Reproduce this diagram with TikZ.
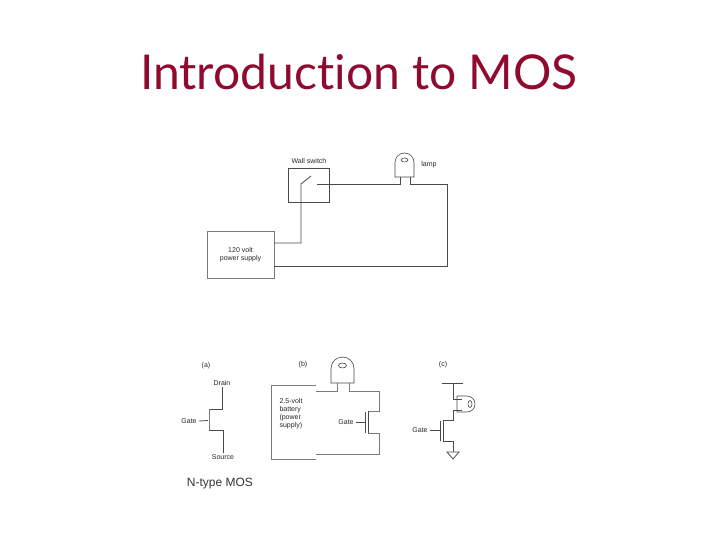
\documentclass[tikz,border=0pt]{standalone}
\usepackage{fontspec}
\setmainfont{Liberation Sans}
\newfontfamily\titlefont[Ligatures=CommonOff]{Lato}
\definecolor{titlered}{HTML}{8F0A2E}
\definecolor{wirecol}{HTML}{4A4A4A}
\definecolor{boxcol}{HTML}{7A7A7A}
\tikzset{
    wire/.style={draw=wirecol, line width=0.8pt},
    lightwire/.style={draw=boxcol, line width=0.8pt},
    lampline/.style={draw=wirecol, line width=0.6pt},
    tinylabel/.style={font=\fontsize{7}{7.8}\selectfont, text=black!85, align=center, inner sep=0pt},
    supplybox/.style={draw=boxcol, line width=0.7pt, tinylabel},
}

\begin{document}
\begin{tikzpicture}[x=1pt,y=-1pt]
    \useasboundingbox (0,0) rectangle (720,540);

    % Title
    \node (title) at (359,72) {\titlefont\fontsize{48}{54}\selectfont\color{titlered}Introduction to MOS};

    % Wall switch circuit
    \node [draw=wirecol, line width=0.9pt, minimum width=41pt, minimum height=34pt, inner sep=0pt] (switchbox) at (308.5,185) {};
    \node [tinylabel] (switchlabel) at (309,161) {Wall switch};
    \node [supplybox, minimum width=67pt, minimum height=47pt] (mains) at (240.5,254.5) {120 volt\\power supply};
    \node [tinylabel] (lamplabel) at (429,165) {lamp};

    \coordinate (mainshi) at (274,243);
    \coordinate (mainslo) at (274,266);
    \coordinate (pivot) at (301,184);
    \coordinate (blade) at (311,176);
    \coordinate (contact) at (317,184);
    \coordinate (legleft) at (400,184);
    \coordinate (legright) at (410,184);

    \draw [wire] (mainshi) -| (pivot) -- (blade);
    \draw [wire] (contact) -- (legleft) -- (400,177);
    \draw [wire] (410,177) -- (legright) -- (447,184) |- (mainslo);

    % Lamps of both circuits
    \foreach \lx/\ly/\lw/\ld in {395/177/9.5/14.5, 331/383/11.5/14.5} {
        \draw [lampline] (\lx,\ly) -- +(0,-\ld) arc [start angle=180, end angle=360, x radius=\lw, y radius=\lw] -- +(0,\ld) -- cycle;
    }
    \draw [lampline] (404.5,160) ellipse [x radius=3.5, y radius=2];
    \draw [lampline] (342.5,365.5) ellipse [x radius=4, y radius=2.5];

    % (a) the bare transistor
    \node [tinylabel] (alabel) at (206,366) {(a)};
    \node [tinylabel] (drain) at (222,383) {Drain};
    \node [tinylabel] (gatea) at (189,421) {Gate};
    \node [tinylabel] (source) at (223,457) {Source};
    \draw [wire] (drain.south) ++(0,1) |- (209,409);
    \draw [wire] (source.north) ++(0,-1) |- (209,430);
    \draw [lightwire] (209,409) -- (209,430);
    \draw [wire] (gatea.east) ++(2,0) -- (208,420.5);
    \node [font=\fontsize{12}{14}\selectfont, text=black!80] (caption) at (220,484) {N-type MOS};

    % (b) battery circuit
    \node [tinylabel] (blabel) at (303,365) {(b)};
    \draw [lightwire] (316,385) -- (271,385) -- (271,459) -- (316,459);
    \node [tinylabel, align=left] (battery) at (291,413.5) {2.5-volt\\battery\\(power\\supply)};
    \node [tinylabel] (gateb) at (346,422) {Gate};
    \draw [lightwire] (316,391) -| (337,383);
    \draw [lightwire] (349,383) |- (379,391) |- (368,411);
    \draw [lightwire] (368,433) -| (379,454) -- (316,454);
    \draw [wire] (368,411) -- (368,433);
    \draw [wire] (365.5,412) -- (365.5,433);
    \draw [wire] (gateb.east) ++(2,0) -- (365,422);

    % (c) inverter with ground
    \node [tinylabel] (clabel) at (443,365) {(c)};
    \node [tinylabel] (gatec) at (420,430) {Gate};
    \draw [wire] (442,383) -- (463,383);
    \draw [wire] (453,383) -- (453,399) -- (462,399);
    \draw [wire] (462,410) -- (453,410) -- (453,420) -- (443.5,420);
    \draw [lampline] (457,396) -- (467,396) arc [start angle=-90, end angle=90, x radius=8, y radius=8] -- (457,412) -- cycle;
    \draw [lampline] (470,404) ellipse [x radius=2, y radius=3.5];
    \draw [wire] (443.5,420) -- (443.5,441) -| (453,452);
    \draw [wire] (440.5,421) -- (440.5,441);
    \draw [wire] (gatec.east) ++(2,0) -- (440,430);
    \draw [wire] (447,452) -- (459,452) -- (453,459) -- cycle;
\end{tikzpicture}
\end{document}
